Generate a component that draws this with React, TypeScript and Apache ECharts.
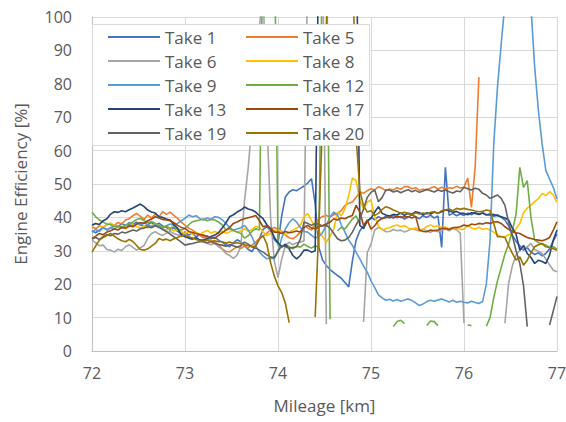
import { useEffect, useRef } from "react";
import * as echarts from "echarts";

// Sampling positions along the route [km]
const mileage = [
  72.00, 72.04, 72.08, 72.12, 72.16, 72.20, 72.24, 72.28, 72.32, 72.36,
  72.40, 72.44, 72.48, 72.52, 72.56, 72.60, 72.64, 72.68, 72.72, 72.76,
  72.80, 72.84, 72.88, 72.92, 72.96, 73.00, 73.04, 73.08, 73.12, 73.16,
  73.20, 73.24, 73.28, 73.32, 73.36, 73.40, 73.44, 73.48, 73.52, 73.56,
  73.60, 73.64, 73.68, 73.72, 73.76, 73.80, 73.84, 73.88, 73.92, 73.96,
  74.00, 74.04, 74.08, 74.12, 74.16, 74.20, 74.24, 74.28, 74.32, 74.36,
  74.40, 74.44, 74.48, 74.52, 74.56, 74.60, 74.64, 74.68, 74.72, 74.76,
  74.80, 74.84, 74.88, 74.92, 74.96, 75.00, 75.04, 75.08, 75.12, 75.16,
  75.20, 75.24, 75.28, 75.32, 75.36, 75.40, 75.44, 75.48, 75.52, 75.56,
  75.60, 75.64, 75.68, 75.72, 75.76, 75.80, 75.84, 75.88, 75.92, 75.96,
  76.00, 76.04, 76.08, 76.12, 76.16, 76.20, 76.24, 76.28, 76.32, 76.36,
  76.40, 76.44, 76.48, 76.52, 76.56, 76.60, 76.64, 76.68, 76.72, 76.76,
  76.80, 76.84, 76.88, 76.92, 76.96, 77.00,
];

// Engine efficiency per take [%]; null = no reading
const take1 = [
  36.0, 35.4, 36.2, 37.0, 36.3, 36.8, 37.6, 37.1, 38.2, 37.5,
  38.4, 37.8, 38.6, 37.9, 37.2, 37.8, 38.5, 37.6, 38.3, 37.4,
  37.0, 36.2, 36.9, 35.8, 35.1, 35.6, 34.7, 35.3, 34.2, 34.8,
  33.9, 34.5, 33.6, 34.1, 33.2, 32.6, 31.8, 31.2, 32.4, 33.3,
  32.7, 31.6, 30.4, 29.8, 31.5, 33.6, 36.4, 37.2, 36.1, 33.4,
  32.2, 40.5, 46.2, 47.6, 48.3, 48.0, 48.7, 49.4, 50.3, 51.6,
  44.0, 31.0, 27.2, 25.6, 24.4, 23.5, 22.6, 21.8, 20.5, 19.2,
  27.0, 33.2, 36.0, 37.4, 38.6, 40.0, 39.3, 40.2, 39.6, 40.4,
  39.8, 40.6, 39.9, 40.3, 39.5, 40.1, 40.8, 40.2, 39.6, 40.5,
  40.0, 40.7, 39.8, 40.4, 31.0, 55.0, 40.6, 41.2, 40.5, 41.0,
  40.6, 41.3, 40.8, 41.5, 40.9, 41.4, 40.7, 41.1, 40.3, 40.8,
  40.0, 39.2, 37.5, 34.6, 32.8, 31.5, 30.2, 31.0, 29.6, 28.9,
  29.4, 28.5, 29.2, 30.6, 33.0, 35.0,
];
const take5 = [
  37.2, 36.6, 37.5, 37.0, 37.8, 38.2, 37.6, 38.5, 38.0, 39.2,
  39.6, 40.5, 41.2, 40.3, 39.4, 40.7, 39.8, 41.0, 40.2, 41.7,
  40.9, 41.6, 40.6, 39.7, 38.6, 37.6, 36.8, 36.2, 35.4, 34.6,
  34.2, 33.6, 33.1, 32.7, 31.8, 30.6, 29.8, 29.7, 30.5, 31.2,
  30.7, 31.4, 30.9, 31.7, 32.6, 33.7, 34.5, 35.2, 36.4, 37.0,
  36.6, 35.8, 34.7, 33.9, 33.6, 34.4, 35.6, 37.6, 36.8, 36.2,
  38.2, 39.6, 40.3, 40.6, 40.2, 40.8, 41.1, 42.0, 43.6, 44.2,
  44.6, 46.0, 47.6, 47.2, 48.0, 48.6, 48.2, 49.2, 48.7, 48.0,
  48.5, 48.2, 48.9, 48.4, 49.2, 49.2, 48.6, 48.9, 48.1, 48.4,
  48.2, 48.8, 49.2, 48.5, 49.0, 48.6, 48.9, 48.7, 49.3, 48.8,
  49.0, 51.8, 43.0, 55.0, 82.0, null, null, null, null, null,
  null, null, null, null, null, null, null, null, null, null,
  null, null, null, null, null, null,
];
const take6 = [
  33.2, 32.4, 31.5, 31.7, 30.4, 30.2, 29.6, 30.5, 30.1, 31.2,
  31.8, 31.0, 30.2, 30.9, 31.6, 33.8, 35.2, 35.7, 35.0, 34.6,
  35.3, 35.8, 35.2, 34.7, 34.9, 34.7, 34.2, 33.7, 33.9, 33.2,
  32.6, 32.2, 31.8, 32.3, 31.2, 30.5, 29.2, 28.6, 27.7, 28.7,
  31.2, 45.0, 55.0, 68.0, 85.0, 97.0, 108.0, 70.0, 40.0, 27.0,
  22.0, 27.5, 31.6, 32.6, 31.8, 32.4, 32.6, 33.0, 120.0, 120.0,
  120.0, 120.0, 120.0, 8.0, null, null, null, null, null, null,
  null, null, null, 8.7, 29.5, 32.0, 36.2, 37.0, 36.5, 35.7,
  35.8, 36.4, 36.0, 36.2, 35.6, 36.1, 36.7, 36.3, 35.9, 36.4,
  36.0, 35.5, 36.2, 35.7, 36.1, 36.5, 36.0, 36.7, 36.3, 35.2,
  8.3, null, null, null, null, null, null, null, null, null,
  null, 8.3, 20.3, 25.5, 28.7, 30.2, 30.8, 31.2, 32.2, 30.4,
  29.9, 29.2, 27.5, 25.8, 24.2, 23.7,
];
const take8 = [
  37.4, 38.2, 37.6, 37.0, 37.8, 38.3, 37.5, 36.9, 37.4, 36.6,
  37.2, 37.9, 37.3, 36.8, 37.5, 36.9, 37.6, 38.0, 37.2, 36.5,
  36.2, 36.8, 35.9, 36.4, 35.7, 35.2, 35.8, 34.9, 35.5, 35.0,
  35.6, 36.1, 35.3, 35.8, 35.4, 35.9, 35.2, 35.7, 36.2, 35.5,
  36.0, 36.6, 35.8, 36.4, 37.3, 37.0, 35.6, 34.6, 35.2, 36.0,
  36.4, 35.5, 34.8, 35.6, 36.2, 36.8, 37.6, 40.2, 41.1, 39.0,
  37.2, 35.8, 34.2, 32.6, 34.4, 36.6, 41.6, 40.4, 42.6, 46.5,
  51.8, 51.0, 45.0, 42.5, 44.6, 45.2, 40.2, 37.5, 36.2, 36.6,
  36.9, 37.4, 37.7, 37.2, 37.6, 36.8, 36.4, 36.9, 36.2, 36.5,
  37.3, 37.7, 37.2, 37.5, 36.9, 37.1, 36.6, 37.0, 36.8, 36.4,
  36.5, 37.7, 36.8, 36.5, 37.0, 36.4, 36.7, 36.2, 35.6, 34.7,
  34.3, 34.2, 34.8, 35.2, 36.6, 38.2, 41.4, 42.8, 43.7, 44.7,
  45.6, 47.2, 46.5, 47.7, 46.7, 44.5,
];
const take9 = [
  35.6, 36.4, 35.8, 36.9, 36.2, 37.0, 36.5, 37.3, 36.8, 37.6,
  37.9, 37.3, 38.2, 37.6, 38.4, 37.8, 37.2, 37.9, 37.4, 36.8,
  37.5, 38.0, 37.6, 38.2, 39.0, 39.7, 40.7, 40.2, 40.5, 39.6,
  39.2, 39.8, 39.4, 40.2, 40.0, 39.3, 38.2, 37.0, 36.2, 36.5,
  36.9, 37.6, 36.2, 34.2, 31.6, 29.6, 28.5, 27.6, 27.8, 27.6,
  30.0, 33.8, 36.6, 38.4, 39.6, 38.6, 37.0, 35.8, 35.6, 34.6,
  33.8, 34.2, 35.5, 37.6, 40.2, 41.6, 40.8, 37.8, 35.6, 33.2,
  31.6, 29.5, 27.6, 25.4, 23.6, 21.0, 19.0, 16.8, 15.9, 15.2,
  15.5, 15.0, 15.4, 14.9, 15.3, 15.6, 15.1, 14.4, 13.6, 14.1,
  14.8, 15.2, 14.9, 15.3, 15.6, 15.1, 14.7, 15.2, 14.6, 14.9,
  14.6, 14.4, 14.9, 14.5, 14.2, 14.8, 20.0, 33.0, 62.0, 79.0,
  92.0, 104.0, 112.0, 118.0, 120.0, 118.0, 114.0, 109.0, 103.0, 85.0,
  72.0, 62.0, 54.0, 51.5, 49.0, 45.5,
];
const take12 = [
  41.5, 40.2, 39.2, 38.6, 38.0, 37.8, 37.2, 37.5, 37.0, 37.6,
  38.1, 38.6, 39.4, 39.7, 39.0, 38.4, 38.8, 38.2, 37.6, 37.0,
  37.4, 36.8, 37.2, 36.5, 36.2, 36.7, 37.8, 38.7, 39.0, 39.2,
  39.5, 39.0, 39.4, 39.2, 38.6, 37.8, 36.2, 36.6, 36.0, 35.6,
  35.2, 33.8, 34.5, 35.8, 36.6, 36.2, 130.0, 130.0, 130.0, 130.0,
  31.6, 31.0, 31.8, 31.2, 30.6, 31.4, 31.1, 32.0, 31.3, 30.8,
  31.5, 31.0, 130.0, 130.0, 9.5, null, 36.0, 37.0, 36.5, 38.0,
  39.5, 40.5, 38.0, null, null, null, null, null, null, null,
  null, 7.3, 8.8, 9.2, 8.2, null, null, null, null, null,
  7.6, 9.0, 8.8, 7.6, null, null, null, null, null, null,
  null, 7.8, 7.6, null, null, null, 7.4, 10.0, 16.0, 21.0,
  25.0, 29.0, 32.0, 36.0, 41.0, 55.0, 49.0, 51.0, 40.0, 33.2,
  32.5, 32.0, 31.7, 31.0, 31.2, 30.5,
];
const take13 = [
  37.7, 38.2, 37.9, 39.0, 39.6, 41.0, 41.7, 41.5, 42.0, 41.7,
  42.3, 42.8, 43.4, 44.0, 43.2, 42.2, 41.6, 41.3, 40.2, 40.0,
  39.5, 39.2, 37.8, 36.8, 34.8, 34.2, 33.8, 33.5, 33.9, 33.2,
  33.2, 33.6, 34.3, 34.7, 35.4, 36.8, 38.4, 40.2, 40.8, 41.6,
  42.2, 43.1, 42.5, 42.2, 41.6, 40.5, 39.6, 37.8, 36.6, 34.0,
  32.4, 31.2, 32.0, 30.5, 28.6, 27.6, 28.6, 30.2, 30.2, 29.6,
  30.0, 130.0, 130.0, 130.0, 130.0, 130.0, 130.0, 130.0, 130.0, 130.0,
  130.0, 130.0, 37.6, 36.6, 39.0, 39.7, 41.6, 43.2, 41.2, 40.7,
  40.4, 40.9, 40.7, 41.3, 40.6, 41.2, 41.0, 41.7, 41.4, 40.8,
  41.4, 41.0, 41.6, 41.2, 41.7, 42.2, 42.0, 41.5, 41.8, 41.2,
  41.2, 40.8, 41.4, 41.2, 40.9, 41.3, 40.8, 40.7, 40.9, 40.5,
  40.2, 39.8, 39.2, 36.8, 35.0, 30.2, 31.6, 29.2, 28.0, 26.2,
  27.2, 26.8, 26.2, 28.7, 33.2, 36.2,
];
const take17 = [
  33.7, 34.4, 35.2, 34.8, 35.6, 36.0, 36.5, 36.2, 37.0, 36.8,
  37.5, 37.2, 38.0, 38.4, 38.2, 39.0, 39.5, 40.2, 39.8, 39.4,
  39.2, 39.0, 38.4, 37.6, 37.0, 36.7, 35.8, 35.5, 35.2, 34.9,
  34.7, 34.2, 34.0, 33.7, 34.6, 35.4, 36.2, 37.0, 38.2, 38.6,
  39.2, 39.6, 39.9, 40.2, 40.6, 39.0, 37.2, 37.5, 36.8, 35.6,
  35.6, 35.2, 35.8, 35.4, 35.6, 35.9, 35.6, 37.0, 37.6, 36.8,
  36.6, 37.2, 37.6, 38.0, 38.6, 39.6, 39.2, 39.8, 39.6, 40.2,
  40.6, 43.6, 41.6, 37.6, 39.2, 36.5, 37.5, 39.0, 39.7, 39.9,
  40.2, 39.8, 40.4, 40.0, 40.2, 40.2, 39.8, 40.3, 36.2, 35.8,
  35.7, 36.2, 36.0, 36.2, 36.7, 36.7, 36.4, 36.9, 37.0, 37.2,
  37.7, 37.4, 38.0, 37.8, 38.2, 38.0, 38.4, 38.2, 38.6, 38.7,
  38.2, 37.2, 36.4, 35.7, 35.4, 35.2, 34.6, 34.0, 33.7, 33.4,
  33.2, 33.0, 33.4, 34.0, 36.2, 38.7,
];
const take19 = [
  33.5, 34.0, 33.4, 34.2, 34.8, 34.5, 35.2, 35.0, 35.6, 35.3,
  35.8, 36.2, 35.9, 36.6, 36.8, 37.2, 36.9, 37.5, 37.0, 36.4,
  35.8, 35.0, 34.2, 33.4, 32.6, 31.7, 32.0, 32.2, 32.5, 32.7,
  32.7, 32.4, 32.8, 32.2, 31.9, 31.7, 31.4, 31.8, 31.5, 31.1,
  31.5, 32.6, 32.0, 31.2, 30.8, 30.2, 29.6, 28.8, 28.1, 28.0,
  29.8, 31.6, 31.2, 30.8, 31.0, 31.2, 33.5, 38.6, 38.2, 37.6,
  38.2, 38.0, 37.4, 37.6, 36.8, 35.2, 33.6, 33.0, 33.2, 34.0,
  35.6, 37.8, 39.6, 42.5, 46.0, 47.5, 48.2, 44.7, 46.0, 48.2,
  48.2, 47.6, 48.0, 47.4, 47.9, 48.3, 47.7, 48.1, 47.5, 47.9,
  48.4, 48.0, 47.6, 48.2, 47.8, 48.2, 47.7, 47.3, 47.9, 47.7,
  49.0, 48.6, 48.2, 48.7, 48.4, 47.2, 46.7, 45.7, 46.2, 46.7,
  45.7, 43.6, 38.5, 34.5, 30.0, 26.2, 19.5, 7.3, null, null,
  null, null, null, 7.8, 12.0, 16.3,
];
const take20 = [
  29.6, 31.5, 33.2, 34.0, 34.6, 35.2, 34.4, 33.6, 33.0, 32.7,
  33.4, 32.8, 31.6, 30.4, 30.2, 30.6, 31.4, 32.2, 33.7, 33.2,
  33.5, 33.0, 33.6, 34.0, 34.4, 34.7, 34.2, 33.8, 33.4, 33.0,
  32.8, 33.2, 32.6, 33.0, 32.7, 32.7, 32.3, 32.6, 32.2, 32.4,
  32.2, 31.8, 31.6, 31.2, 31.4, 33.5, 34.5, 32.0, 26.5, 22.5,
  19.5, 17.5, 14.2, 8.5, null, null, null, null, null, null,
  10.2, 38.0, 70.0, 98.0, 125.0, 130.0, 130.0, 130.0, 130.0, 130.0,
  125.0, 64.0, 48.0, 43.5, 41.6, 42.0, 40.6, 41.2, 42.4, 43.2,
  42.8, 42.2, 41.8, 41.2, 41.5, 41.2, 40.8, 41.4, 41.0, 41.3,
  41.0, 41.5, 41.7, 41.2, 42.0, 42.2, 42.5, 42.0, 42.7, 42.4,
  42.7, 42.4, 42.2, 41.9, 41.7, 41.8, 42.2, 42.0, 38.2, 34.2,
  34.2, 34.0, 31.5, 29.2, 27.2, 28.2, 25.7, 27.2, 29.4, 31.2,
  31.8, 32.2, 31.2, 31.0, 30.6, 30.2,
];

const takeNames = [
  "Take 1", "Take 5", "Take 6", "Take 8", "Take 9",
  "Take 12", "Take 13", "Take 17", "Take 19", "Take 20",
];
const takeValues = [take1, take5, take6, take8, take9, take12, take13, take17, take19, take20];
const takeColors = [
  "#4472C4", "#ED7D31", "#A5A5A5", "#FFC000", "#5B9BD5",
  "#70AD47", "#264478", "#9E480E", "#636363", "#997300",
];
const legendLeftColumn = ["Take 1", "Take 6", "Take 9", "Take 13", "Take 19"];
const legendRightColumn = ["Take 5", "Take 8", "Take 12", "Take 17", "Take 20"];

const FONT = "'Open Sans', 'Noto Sans', sans-serif";
const TEXT = "#595959";

export default function App() {
  const ref = useRef<HTMLDivElement>(null);

  useEffect(() => {
    document.body.style.margin = "0";
    const chart = echarts.init(ref.current as HTMLDivElement, undefined, { renderer: "svg" });

    const legendBase = {
      orient: "vertical" as const,
      top: 28,
      padding: 0,
      itemGap: 6,
      itemWidth: 52,
      itemHeight: 2,
      icon: "rect",
      selectedMode: false,
      z: 10,
      textStyle: { color: TEXT, fontSize: 17, fontFamily: FONT, lineHeight: 18 },
    };

    chart.setOption({
      animation: false,
      backgroundColor: "#ffffff",
      grid: { left: 92, right: 9, top: 17, bottom: 71, outerBoundsMode: "none" },
      xAxis: {
        type: "value",
        min: 72,
        max: 77,
        interval: 1,
        name: "Mileage [km]",
        nameLocation: "middle",
        nameGap: 46,
        nameTextStyle: { color: TEXT, fontSize: 17, fontFamily: FONT },
        axisLine: { show: true, lineStyle: { color: "#bfbfbf", width: 1 } },
        axisTick: { show: false },
        axisLabel: { margin: 14, color: TEXT, fontSize: 16, fontFamily: FONT },
        splitLine: { show: true, lineStyle: { color: "#d9d9d9", width: 1 } },
      },
      yAxis: {
        type: "value",
        min: 0,
        max: 100,
        interval: 10,
        name: "Engine Efficiency [%]",
        nameLocation: "middle",
        nameGap: 63,
        nameRotate: 90,
        nameTextStyle: { color: TEXT, fontSize: 17, fontFamily: FONT },
        axisLine: { show: true, lineStyle: { color: "#bfbfbf", width: 1 } },
        axisTick: { show: false },
        axisLabel: { margin: 20, color: TEXT, fontSize: 16, fontFamily: FONT },
        splitLine: { show: true, lineStyle: { color: "#d9d9d9", width: 1 } },
      },
      legend: [
        { ...legendBase, left: 108, data: legendLeftColumn },
        { ...legendBase, left: 246, data: legendRightColumn },
      ],
      graphic: [
        {
          type: "rect",
          z: 5,
          shape: { x: 92.5, y: 24.5, width: 277, height: 121 },
          style: { fill: "#ffffff", stroke: "#d9d9d9", lineWidth: 1 },
        },
      ],
      series: takeNames.map((name, k) => ({
        type: "line",
        name,
        color: takeColors[k],
        data: mileage.map((x, i) => [x, takeValues[k][i] ?? "-"]),
        symbol: "none",
        showSymbol: false,
        connectNulls: false,
        clip: true,
        lineStyle: { color: takeColors[k], width: 1.6 },
        itemStyle: { color: takeColors[k] },
      })),
    });

    return () => chart.dispose();
  }, []);

  return <div ref={ref} style={{ width: 566, height: 422 }} />;
}
